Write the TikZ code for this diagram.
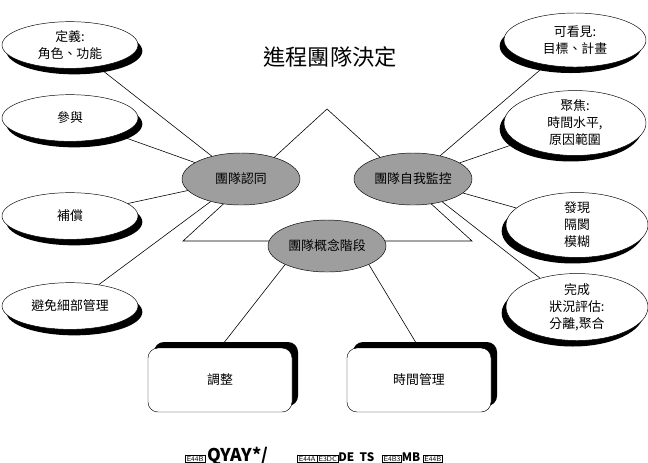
\documentclass[tikz,border=0pt]{standalone}
\usepackage{fontspec}
\setmainfont{Noto Sans CJK TC}
\usepackage{tikz}
\usetikzlibrary{shapes.geometric, shadows}
\tikzset{
  leftoval/.style={ellipse, draw=black, fill=white, inner sep=0pt,
    minimum width=4.08cm, minimum height=1.4cm, align=center, font=\fontsize{11}{14.5}\selectfont,
    drop shadow={shadow xshift=0.13cm, shadow yshift=-0.18cm, fill=black, opacity=1}},
  rightoval/.style={ellipse, draw=black, fill=white, inner sep=0pt,
    minimum width=4.26cm, minimum height=1.62cm, align=center, font=\fontsize{11}{14.5}\selectfont,
    drop shadow={shadow xshift=-0.13cm, shadow yshift=-0.18cm, fill=black, opacity=1}},
  core/.style={ellipse, draw=black, fill=black!38, inner sep=0pt,
    minimum width=3.54cm, minimum height=1.56cm, font=\fontsize{11}{14}\selectfont},
  card/.style={rectangle, draw=black, fill=white, rounded corners=0.3cm,
    minimum width=4.32cm, minimum height=1.92cm, font=\fontsize{11}{14}\selectfont,
    drop shadow={shadow xshift=0.18cm, shadow yshift=0.18cm, fill=black, opacity=1}},
  spoke/.style={draw=black, line width=0.5pt}
}
\newcommand{\glyphbox}[1]{{\setlength{\fboxsep}{0.8pt}\setlength{\fboxrule}{0.4pt}\fbox{\fontsize{6}{6}\selectfont\sffamily #1}}}

\begin{document}
\begin{tikzpicture}[x=0.03cm, y=-0.03cm]
  \useasboundingbox (0,0) rectangle (648,462);

  % triangle behind the three stages
  \coordinate (apex) at (327,109);
  \coordinate (baseL) at (183,241);
  \coordinate (baseR) at (472,241);
  \draw[spoke] (apex) -- (baseR) -- (baseL) -- cycle;

  \node[font=\fontsize{19}{22}\selectfont] (title) at (330,57) {進程團隊決定};

  \node[leftoval] (define) at (70,45) {定義:\\角色、功能};
  \node[leftoval] (join) at (70,118) {參與};
  \node[leftoval] (reward) at (70,216) {補償};
  \node[leftoval] (micro) at (70,306) {避免細部管理};

  \node[rightoval] (visible) at (575,40) {可看見:\\目標、計畫};
  \node[rightoval] (focus) at (575,123) {聚焦:\\時間水平,\\原因範圍};
  \node[rightoval] (discover) at (577,225) {發現\\隔閡\\模糊};
  \node[rightoval] (finish) at (577,307) {完成\\狀況評估:\\分離,聚合};

  \node[core] (ident) at (241,179) {團隊認同};
  \node[core] (selfmon) at (413,179) {團隊自我監控};
  \node[core] (concept) at (327,246) {團隊概念階段};

  \node[card] (adjust) at (220,380) {調整};
  \node[card] (timemgmt) at (419,380) {時間管理};

  \node (junk) at (314,456) {\glyphbox{E44B}\,{\fontsize{15}{16}\selectfont\bfseries QYAY*/}\qquad\ \
    \glyphbox{E44A}\glyphbox{E3DC}{\fontsize{10}{10}\selectfont\bfseries DE\ \ TS}\ \ \
    \glyphbox{E4B3}{\fontsize{10}{10}\selectfont\bfseries MB}\ \glyphbox{E44B}};

  \draw[spoke] (define) -- (ident);
  \draw[spoke] (join) -- (ident);
  \draw[spoke] (reward) -- (ident);
  \draw[spoke] (micro) -- (ident);

  \draw[spoke] (visible) -- (selfmon);
  \draw[spoke] (focus) -- (selfmon);
  \draw[spoke] (discover) -- (selfmon);
  \draw[spoke] (finish) -- (selfmon);

  \draw[spoke] (concept.south west) -- (adjust.north);
  \draw[spoke] (concept.south east) -- (timemgmt.north);
\end{tikzpicture}
\end{document}
